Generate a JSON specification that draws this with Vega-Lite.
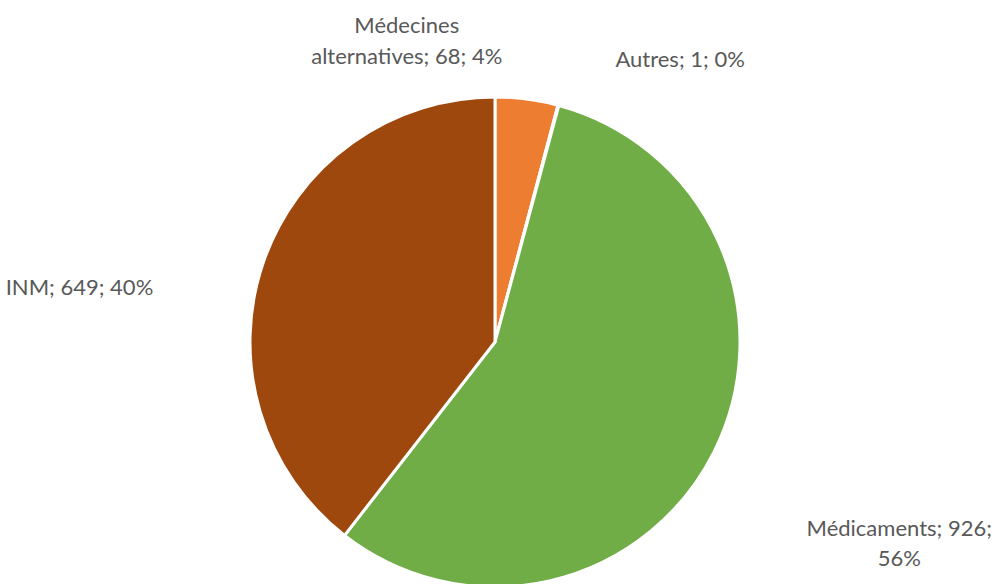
{
  "$schema": "https://vega.github.io/schema/vega-lite/v6.json",
  "width": 990,
  "height": 484,
  "autosize": {"type": "none"},
  "padding": {"top": 100, "left": 0, "right": 5, "bottom": 0},
  "background": "white",
  "config": {"view": {"stroke": null}},
  "data": {
    "values": [
      {"categorie": "Médecines alternatives", "valeur": 68, "ordre": 1, "label": "Médecines\nalternatives; 68; 4%"},
      {"categorie": "Autres", "valeur": 1, "ordre": 2, "label": "Autres; 1; 0%"},
      {"categorie": "Médicaments", "valeur": 926, "ordre": 3, "label": "Médicaments; 926;\n56%"},
      {"categorie": "INM", "valeur": 649, "ordre": 4, "label": "INM; 649; 40%"}
    ]
  },
  "encoding": {
    "theta": {"field": "valeur", "type": "quantitative", "stack": true},
    "order": {"field": "ordre", "type": "quantitative"}
  },
  "layer": [
    {
      "mark": {"type": "arc", "outerRadius": 245, "stroke": "white", "strokeWidth": 3},
      "encoding": {
        "color": {
          "field": "categorie",
          "type": "nominal",
          "scale": {
            "domain": ["Médecines alternatives", "Autres", "Médicaments", "INM"],
            "range": ["#ED7D31", "#A5A5A5", "#70AD47", "#9E480E"]
          },
          "legend": null
        }
      }
    },
    {
      "mark": {"type": "text", "radius": 245, "dx": -120, "dy": -73, "align": "center", "baseline": "middle", "lineBreak": "\n", "lineHeight": 31, "font": "Lato", "fontSize": 22, "fill": "#595959"},
      "encoding": {"text": {"condition": {"test": "datum.ordre === 1", "field": "label"}, "value": ""}}
    },
    {
      "mark": {"type": "text", "radius": 245, "dx": 57, "dy": -45, "align": "left", "baseline": "middle", "lineBreak": "\n", "lineHeight": 31, "font": "Lato", "fontSize": 22, "fill": "#595959"},
      "encoding": {"text": {"condition": {"test": "datum.ordre === 2", "field": "label"}, "value": ""}}
    },
    {
      "mark": {"type": "text", "radius": 245, "dx": 185, "dy": 78, "align": "center", "baseline": "middle", "lineBreak": "\n", "lineHeight": 30, "font": "Lato", "fontSize": 22, "fill": "#595959"},
      "encoding": {"text": {"condition": {"test": "datum.ordre === 3", "field": "label"}, "value": ""}}
    },
    {
      "mark": {"type": "text", "radius": 245, "dx": -110, "dy": 26, "align": "right", "baseline": "middle", "lineBreak": "\n", "lineHeight": 31, "font": "Lato", "fontSize": 22, "fill": "#595959"},
      "encoding": {"text": {"condition": {"test": "datum.ordre === 4", "field": "label"}, "value": ""}}
    }
  ]
}
